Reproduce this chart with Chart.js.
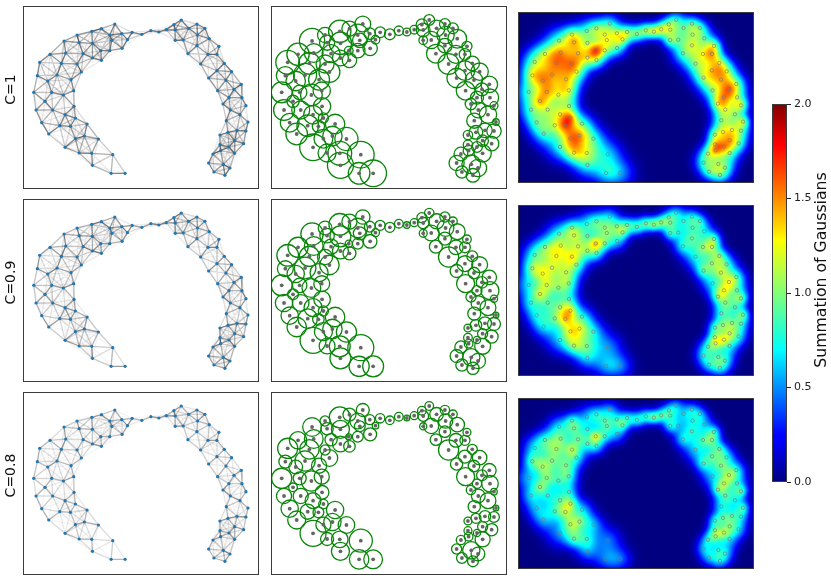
<!DOCTYPE html>
<html>
<head>
<meta charset="utf-8">
<title>Summation of Gaussians</title>
<script src="https://cdn.jsdelivr.net/npm/chart.js@4"></script>
<style>
  html, body { margin: 0; background: #fff; }
  body { width: 831px; height: 585px; position: relative; overflow: hidden; }
  canvas { position: absolute; }
</style>
</head>
<body>
<script>
// node positions (same units in all three rows)
const nodeX = [284,244,215,171,132,269,305,275,322,177,217,336,365,392,416,438,461,483,465,505,530,554,532,567,465,489,530,596,503,563,590,612,541,590,634,565,617,663,641,592,665,626,608,677,630,659,618,683,650,677,623,599,643,670,599,626,601,643,578,565,609,629,581,614,306,269,242,217,244,189,137,90,59,124,171,184,52,111,83,153,41,95,130,161,75,48,98,162,135,166,201,65,119,151,86,166,193,235,135,177,215,278,217,273,315];
const nodeY = [57,71,79,90,108,90,86,106,104,113,115,82,88,77,81,74,59,45,75,70,57,70,90,101,106,105,122,124,146,148,148,175,177,197,200,219,225,238,253,257,278,278,297,302,315,329,347,351,376,378,382,390,407,416,419,426,437,445,447,474,478,489,501,511,130,137,137,159,166,146,144,148,172,175,177,201,212,210,228,224,262,262,270,257,289,315,315,304,329,339,357,353,362,364,387,401,393,402,427,444,445,449,481,505,505];

// circle radius of every node, one list per row
const radiusC1 = [22,21,31,21,35,30,16,20,12,21,31,15,15,13,11,12,16,15,19,23,15,15,24,26,12,24,20,14,26,25,16,20,29,27,24,27,24,23,18,26,24,18,16,11,22,24,21,9,20,20,19,13,16,20,13,15,15,24,19,21,26,24,17,19,20,20,12,22,20,25,26,31,33,30,25,29,25,32,27,29,29,20,30,24,17,29,25,24,26,14,27,26,30,17,30,26,27,32,37,25,33,37,36,30,37];
const radiusC09 = [20,21,30,19,31,27,15,18,11,20,29,14,14,12,9,11,14,13,16,21,14,12,23,22,11,22,18,12,18,20,15,15,28,22,22,18,16,20,16,25,25,14,14,10,20,22,18,8,18,18,16,11,14,18,12,10,12,22,17,18,24,21,17,17,19,15,10,22,18,21,26,28,30,28,21,27,22,30,24,25,29,20,26,22,15,24,23,23,25,14,27,24,27,16,27,25,27,28,36,22,29,36,29,28,29];
const radiusC08 = [18,18,29,14,26,22,14,15,9,17,25,13,12,12,8,11,12,12,15,19,13,12,20,20,10,21,16,11,16,19,14,14,28,18,20,17,16,19,15,25,23,13,13,9,19,22,17,8,16,15,14,11,14,17,11,10,12,21,13,14,24,19,15,15,18,15,8,22,16,17,26,24,28,27,14,23,18,28,19,21,28,18,28,21,12,21,21,19,22,13,24,24,21,15,25,21,24,23,36,18,23,32,25,27,26];

// how strongly each node shows in the heat maps
const heatWeight = [.7,.7,.7,.8,.95,.7,.7,.7,.85,.8,.7,.9,1,1,1,1,.62,.62,.62,.62,.62,.62,.62,.8,.8,.62,.8,.9,.9,.9,1,.95,1,.95,.95,1,1,.95,1,.95,.9,1,.9,.9,.85,.85,.85,.9,.8,.8,.85,.85,.85,.8,.85,.9,.85,.8,.8,.7,.7,.7,.7,.7,.8,.8,1.15,.8,.85,.9,1,.95,1,1.1,1.1,.95,1.05,1.1,1.05,1,1,1,1,.9,1,.9,.85,.8,.9,1.1,.85,.8,.85,1.1,.8,1.1,1.1,.8,.85,1.05,.95,.8,.75,.7,.7];

const rowLabels = ['C=1', 'C=0.9', 'C=0.8'];
const rowRadii = [radiusC1, radiusC09, radiusC08];
const edgeGain = [1, 0.9, 0.75];
const heatGain = [0.63, 0.55, 0.5];

const colorbarTicks = [0, 0.5, 1, 1.5, 2];
const colorbarTitle = 'Summation of Gaussians';
const jetStops = [[0,'#00007f'],[0.11,'#0000ff'],[0.125,'#0000ff'],[0.35,'#00ffff'],[0.375,'#12ffe4'],[0.64,'#ffff00'],[0.66,'#ffe600'],[0.89,'#ff0000'],[0.91,'#ed0000'],[1,'#7f0000']];

const fontFamily = "'DejaVu Sans', sans-serif";
const colLeft = [23, 271, 518];
const rowTop = [6, 199, 392];
const heatTop = [12, 205, 398];
const panelW = 236;
const panelH = 183;
const heatH = 171;

const frame = {
  id: 'frame',
  afterDraw(chart) {
    const a = chart.chartArea, ctx = chart.ctx;
    ctx.save();
    ctx.strokeStyle = '#3c3c3c';
    ctx.lineWidth = 1;
    ctx.strokeRect(Math.round(a.left) + 0.5, Math.round(a.top) + 0.5, Math.round(a.width) - 1, Math.round(a.height) - 1);
    ctx.restore();
  },
};

// bottom-to-top text, used for the row labels and the colorbar title
function sideText(text, x, y, size) {
  return {
    id: 'sideText',
    afterDraw(chart) {
      const ctx = chart.ctx;
      ctx.save();
      ctx.translate(x, y);
      ctx.rotate(-Math.PI / 2);
      ctx.font = `${size}px ${fontFamily}`;
      ctx.fillStyle = '#111';
      ctx.textAlign = 'center';
      ctx.textBaseline = 'middle';
      ctx.fillText(text, 0, 0);
      ctx.restore();
    },
  };
}

function jet(v) {
  const t = Math.min(1, Math.max(0, v / 2));
  const r = Math.min(1, Math.max(0, t < 0.89 ? (t - 0.35) / 0.29 : 1 - (t - 0.89) / 0.11 * 0.5));
  const g = Math.min(1, Math.max(0, t < 0.375 ? (t - 0.11) / 0.235 : 1 - (t - 0.64) / 0.27));
  const b = Math.min(1, Math.max(0, t < 0.11 ? 0.5 + t / 0.11 * 0.5 : 1 - (t - 0.34) / 0.31));
  return [r * 255, g * 255, b * 255];
}

// heat image: one Gaussian per node, evaluated through the chart's scales
function heatPlugin(row) {
  const radii = rowRadii[row];
  const sigmas = radii.map(r => 10 + 0.55 * r);
  const amps = sigmas.map((s, i) => heatGain[row] * heatWeight[i] * Math.pow(20 / s, 0.15));
  return {
    id: 'heat',
    beforeDatasetsDraw(chart) {
      const a = chart.chartArea, sx = chart.scales.x, sy = chart.scales.y;
      const w = Math.round(a.width), h = Math.round(a.height);
      const off = document.createElement('canvas');
      off.width = w; off.height = h;
      const oc = off.getContext('2d');
      const img = oc.createImageData(w, h);
      for (let py = 0; py < h; py++) {
        const vy = sy.getValueForPixel(a.top + py + 0.5);
        for (let px = 0; px < w; px++) {
          const vx = sx.getValueForPixel(a.left + px + 0.5);
          let sum = 0;
          for (let i = 0; i < nodeX.length; i++) {
            const dx = nodeX[i] - vx, dy = nodeY[i] + 15 - vy;
            sum += amps[i] * Math.exp(-(dx * dx + dy * dy) / (2 * sigmas[i] * sigmas[i]));
          }
          const c = jet(sum), k = (py * w + px) * 4;
          img.data[k] = c[0]; img.data[k + 1] = c[1]; img.data[k + 2] = c[2]; img.data[k + 3] = 255;
        }
      }
      oc.putImageData(img, 0, 0);
      chart.ctx.drawImage(off, a.left, a.top);
    },
  };
}

function nodePoints() {
  return nodeX.map((x, i) => ({ x, y: nodeY[i] + 15 }));
}

// graph edges grouped by strength; NaN points break the line between edges
function edgeDatasets(row) {
  const radii = rowRadii[row];
  const levels = [0.05, 0.1, 0.16, 0.24, 0.33, 0.44, 0.56, 0.7];
  const groups = levels.map(() => []);
  for (let i = 0; i < nodeX.length; i++) {
    for (let j = i + 1; j < nodeX.length; j++) {
      const d = Math.hypot(nodeX[i] - nodeX[j], nodeY[i] - nodeY[j]);
      if (d > 115) continue;
      const reach = 0.5 * (radii[i] + radii[j]) + 25;
      const w = edgeGain[row] * Math.exp(-(d * d) / (reach * reach));
      if (w < 0.03) continue;
      let g = 0;
      levels.forEach((l, k) => { if (w >= l) g = k; });
      groups[g].push({ x: nodeX[i], y: nodeY[i] + 15 }, { x: nodeX[j], y: nodeY[j] + 15 }, { x: NaN, y: NaN });
    }
  }
  return groups.map((data, k) => ({
    data,
    showLine: true,
    spanGaps: false,
    pointRadius: 0,
    borderWidth: 1.3,
    borderColor: `rgba(35,35,35,${levels[k]})`,
    order: 10 - k,
  }));
}

function panelOptions(yMin, yMax) {
  return {
    responsive: false,
    animation: false,
    events: [],
    layout: { padding: 0, autoPadding: false },
    plugins: { legend: { display: false }, tooltip: { enabled: false } },
    scales: {
      x: { type: 'linear', display: false, min: 9, max: 716 },
      y: { type: 'linear', display: false, reverse: true, min: yMin, max: yMax },
    },
  };
}

function makeCanvas(left, top, width, height) {
  const c = document.createElement('canvas');
  c.width = width; c.height = height;
  c.style.left = left + 'px'; c.style.top = top + 'px';
  c.style.width = width + 'px'; c.style.height = height + 'px';
  document.body.appendChild(c);
  return c;
}

function renderGraph(row) {
  const opts = panelOptions(18, 567);
  opts.layout.padding = { left: colLeft[0] };
  new Chart(makeCanvas(0, rowTop[row], colLeft[0] + panelW, panelH), {
    type: 'scatter',
    data: {
      datasets: [
        { data: nodePoints(), pointRadius: 1.6, pointBorderWidth: 0, pointBackgroundColor: '#1f77b4', order: 0 },
        ...edgeDatasets(row),
      ],
    },
    options: opts,
    plugins: [frame, sideText(rowLabels[row], 11, panelH / 2 - 8, 14)],
  });
}

function renderCircles(row) {
  const radii = rowRadii[row];
  new Chart(makeCanvas(colLeft[1], rowTop[row], panelW, panelH), {
    type: 'scatter',
    data: {
      datasets: [
        { data: nodePoints(), pointRadius: 1.9, pointBorderWidth: 0, pointBackgroundColor: '#656565', order: 0 },
        {
          data: nodePoints(),
          pointRadius: ctx => 1.08 * radii[ctx.dataIndex] * ctx.chart.scales.x.width / 707,
          pointBorderWidth: 1.3,
          pointBorderColor: '#0a860a',
          pointBackgroundColor: 'transparent',
          order: 1,
        },
      ],
    },
    options: panelOptions(18, 567),
    plugins: [frame],
  });
}

function renderHeat(row) {
  new Chart(makeCanvas(colLeft[2], heatTop[row], panelW, heatH), {
    type: 'scatter',
    data: {
      datasets: [{
        data: nodePoints(),
        pointRadius: 1.7,
        pointBorderWidth: 0.8,
        pointBorderColor: 'rgba(120,120,120,0.8)',
        pointBackgroundColor: 'transparent',
      }],
    },
    options: panelOptions(37, 550),
    plugins: [heatPlugin(row), frame],
  });
}

function renderColorbar() {
  new Chart(makeCanvas(772, 94, 59, 398), {
    type: 'bar',
    data: {
      labels: [''],
      datasets: [{
        data: [[colorbarTicks[0], colorbarTicks[colorbarTicks.length - 1]]],
        barPercentage: 1,
        categoryPercentage: 1,
        borderWidth: 0,
        backgroundColor(ctx) {
          const a = ctx.chart.chartArea;
          if (!a) return '#000';
          const g = ctx.chart.ctx.createLinearGradient(0, a.bottom, 0, a.top);
          jetStops.forEach(s => g.addColorStop(s[0], s[1]));
          return g;
        },
      }],
    },
    options: {
      responsive: false,
      animation: false,
      events: [],
      layout: { padding: { top: 10, bottom: 10 } },
      plugins: { legend: { display: false }, tooltip: { enabled: false } },
      scales: {
        x: { display: false },
        y: {
          position: 'right',
          min: 0,
          max: 2,
          afterBuildTicks(scale) { scale.ticks = colorbarTicks.map(value => ({ value })); },
          ticks: {
            color: '#222',
            padding: 3,
            font: { family: fontFamily, size: 11 },
            callback: v => v.toFixed(1),
          },
          grid: { drawOnChartArea: false, drawTicks: true, tickLength: 4, color: '#222' },
          border: { display: false },
          afterFit(scale) { scale.width = 44; },
        },
      },
    },
    plugins: [frame, sideText(colorbarTitle, 50, 176, 15.7)],
  });
}

for (let row = 0; row < 3; row++) {
  renderGraph(row);
  renderCircles(row);
  renderHeat(row);
}
renderColorbar();
</script>
</body>
</html>
